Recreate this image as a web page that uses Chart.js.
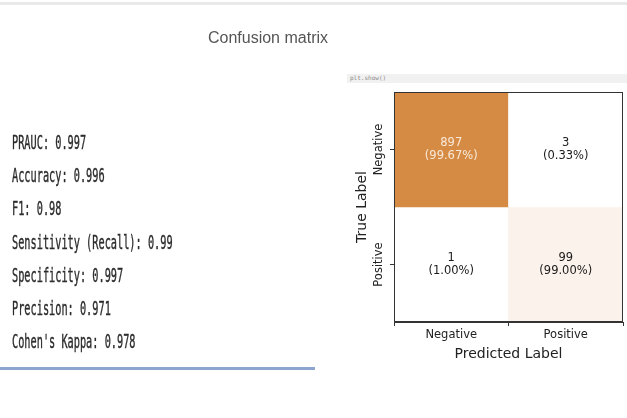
<!DOCTYPE html>
<html>
<head>
<meta charset="utf-8">
<script src="https://cdn.jsdelivr.net/npm/chart.js@4"></script>
<style>
  html, body { margin:0; padding:0; background:#fff; width:627px; height:418px; overflow:hidden; }
  #wrap { position:relative; width:627px; height:418px; }
  #c { position:absolute; left:0; top:0; }
  .ov { position:absolute; }
  #topline { left:0; top:2px; width:627px; height:3px; background:#e9e9e9; }
  #title { left:0; top:29px; width:536px; text-align:center; font-family:"Liberation Sans", Arial, sans-serif; font-size:16px; color:#555; }
  #cellbar { left:347px; top:74px; width:280px; height:9px; background:#f1f1f1; font-family:"DejaVu Sans Mono", monospace; font-size:6px; line-height:8px; color:#888; padding-left:3px; box-sizing:border-box; }
  #metrics { left:12px; top:0; }
  .m { position:absolute; left:0; white-space:pre; font-family:"DejaVu Sans Mono", monospace; font-size:19px; color:#2b2b2b; transform:scaleX(0.54); transform-origin:left top; -webkit-text-stroke:0.4px #2b2b2b; }
  #blue { left:0; top:367px; width:315px; height:3px; background:#8ea6cf; }
</style>
</head>
<body>
<div id="wrap">
  <canvas id="c" width="627" height="418"></canvas>
  <div class="ov" id="topline"></div>
  <div class="ov" id="title">Confusion matrix</div>
  <div class="ov" id="cellbar">plt.show()</div>
  <div class="ov" id="metrics"></div>
  <div class="ov" id="blue"></div>
</div>
<script>
// ---- data ----
const predictedLabels = ['Negative', 'Positive'];
const trueLabels = ['Negative', 'Positive'];
const countsNegRow = [897, 3];
const countsPosRow = [1, 99];
const percentNegRow = ['99.67%', '0.33%'];
const percentPosRow = ['1.00%', '99.00%'];
const metricNames = ['PRAUC', 'Accuracy', 'F1', 'Sensitivity (Recall)', 'Specificity', 'Precision', "Cohen's Kappa"];
const metricValues = ['0.997', '0.996', '0.98', '0.99', '0.997', '0.971', '0.978'];

// ---- metrics text ----
const mDiv = document.getElementById('metrics');
metricNames.forEach((n, i) => {
  const d = document.createElement('div');
  d.className = 'm';
  d.style.top = (131 + i * 33.2) + 'px';
  d.textContent = n + ': ' + metricValues[i];
  mDiv.appendChild(d);
});

// ---- colours ----
const counts = [countsNegRow, countsPosRow];
const percents = [percentNegRow, percentPosRow];
const allVals = counts.flat();
const vmin = Math.min(...allVals), vmax = Math.max(...allVals);
const lo = [255, 255, 255], hi = [214, 139, 69];
function cellColor(v) {
  const t = (v - vmin) / (vmax - vmin);
  const c = lo.map((l, k) => Math.round(l + (hi[k] - l) * t));
  return `rgb(${c[0]},${c[1]},${c[2]})`;
}

const datasets = counts.map((row, r) => ({
  label: trueLabels[r],
  data: row.map(() => [r, r + 1]),
  backgroundColor: row.map(v => cellColor(v)),
  borderWidth: 0,
  barPercentage: 1,
  categoryPercentage: 1,
  grouped: false
}));

const cellText = {
  id: 'cellText',
  afterDatasetsDraw(chart) {
    const ctx = chart.ctx;
    ctx.save();
    ctx.font = '11.5px "DejaVu Sans", sans-serif';
    ctx.textAlign = 'center';
    ctx.textBaseline = 'middle';
    chart.data.datasets.forEach((ds, r) => {
      const meta = chart.getDatasetMeta(r);
      meta.data.forEach((el, c) => {
        const v = counts[r][c];
        const cx = el.x;
        const cy = (el.y + el.base) / 2;
        ctx.fillStyle = (v - vmin) / (vmax - vmin) > 0.5 ? '#f8e9d8' : '#1a1a1a';
        ctx.fillText(String(v), cx, cy - 6.5);
        ctx.fillText('(' + percents[r][c] + ')', cx, cy + 6.5);
      });
    });
    ctx.restore();
  }
};

const yLabels = {
  id: 'yLabels',
  afterDraw(chart) {
    const s = chart.scales.y, ctx = chart.ctx;
    ctx.save();
    ctx.font = '11.5px "DejaVu Sans", sans-serif';
    ctx.fillStyle = '#222';
    ctx.textAlign = 'center';
    ctx.textBaseline = 'middle';
    s.ticks.forEach((t, i) => {
      const y = s.getPixelForValue(t.value);
      ctx.save();
      ctx.translate(s.right - 15, y);
      ctx.rotate(-Math.PI / 2);
      ctx.fillText(trueLabels[i], 0, 0);
      ctx.restore();
    });
    ctx.restore();
  }
};

const frame = {
  id: 'frame',
  afterDraw(chart) {
    const a = chart.chartArea, ctx = chart.ctx;
    ctx.save();
    ctx.strokeStyle = '#333';
    ctx.lineWidth = 1;
    ctx.strokeRect(Math.round(a.left) + 0.5, Math.round(a.top) + 0.5, Math.round(a.right - a.left) - 1, Math.round(a.bottom - a.top) - 1);
    ctx.restore();
  }
};

new Chart(document.getElementById('c'), {
  type: 'bar',
  data: { labels: predictedLabels, datasets },
  options: {
    responsive: false,
    devicePixelRatio: 1,
    animation: false,
    layout: { padding: { left: 354, top: 92, right: 4, bottom: 55 } },
    plugins: { legend: { display: false }, tooltip: { enabled: false }, title: { display: false } },
    scales: {
      x: {
        type: 'category',
        afterFit(s) { s.height = 41; },
        grid: { drawOnChartArea: false, drawTicks: true, tickLength: 4, color: '#333' },
        border: { color: '#333' },
        ticks: { color: '#222', font: { family: 'DejaVu Sans', size: 11.5 }, padding: 2 },
        title: { display: true, text: 'Predicted Label', color: '#222', font: { family: 'DejaVu Sans', size: 14 }, padding: 0 }
      },
      y: {
        type: 'linear',
        min: 0, max: 2, reverse: true,
        afterFit(s) { s.width = 40; },
        afterBuildTicks(s) { s.ticks = [{ value: 0.5 }, { value: 1.5 }]; },
        grid: { drawOnChartArea: false, drawTicks: true, tickLength: 4, color: '#333' },
        border: { color: '#333' },
        ticks: { color: 'rgba(0,0,0,0)', font: { family: 'DejaVu Sans', size: 11 }, padding: 2, callback: (v, i) => trueLabels[i] },
        title: { display: true, text: 'True Label', color: '#222', font: { family: 'DejaVu Sans', size: 14 }, padding: 0 }
      }
    }
  },
  plugins: [cellText, yLabels, frame]
});
</script>
</body>
</html>
